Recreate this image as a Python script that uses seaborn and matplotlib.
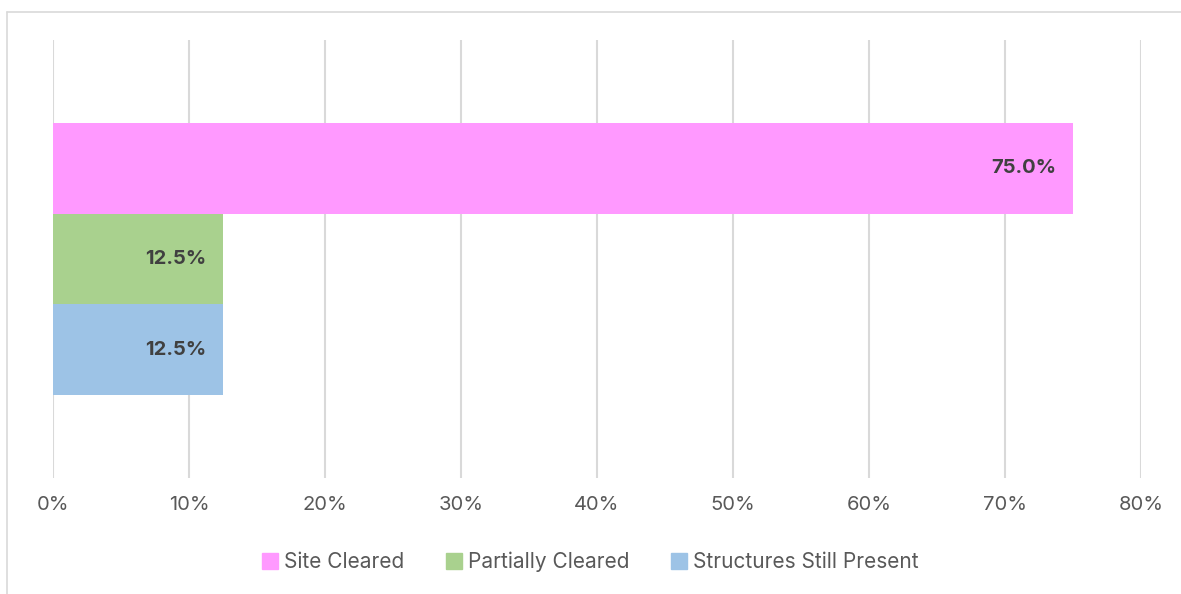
import pandas as pd
import matplotlib.pyplot as plt
import seaborn as sns
from matplotlib.lines import Line2D
from matplotlib.ticker import FuncFormatter

# data
statuses = ['Site Cleared', 'Partially Cleared', 'Structures Still Present']
shares = [75.0, 12.5, 12.5]
group = ['', '', '']
colors = ['#FF99FF', '#A9D18E', '#9DC3E6']
xticks = [0, 10, 20, 30, 40, 50, 60, 70, 80]

df = pd.DataFrame({'status': statuses, 'share': shares, 'group': group})

sns.set_theme(style='white')
plt.rcParams['font.family'] = ['Inter', 'DejaVu Sans']

fig = plt.figure(figsize=(11.81, 5.94), dpi=100)
ax = fig.add_axes([53 / 1181, 1 - 478 / 594, (1141 - 53) / 1181, (478 - 40) / 594])

sns.barplot(data=df, x='share', y='group', hue='status', hue_order=statuses,
            palette=colors, orient='h', width=0.623, saturation=1,
            edgecolor='none', legend=True, ax=ax)

ax.set_xlim(0, 80)
ax.set_ylim(0.5, -0.5)
ax.set_xticks(xticks)
ax.xaxis.set_major_formatter(FuncFormatter(lambda v, p: f'{v:.0f}%'))
ax.tick_params(axis='x', length=0, pad=13, labelsize=14.5, labelcolor='#595959')
ax.set_yticks([])
ax.set_xlabel('')
ax.set_ylabel('')
ax.grid(axis='x', color='#D9D9D9', linewidth=1.5)
ax.set_axisbelow(True)
for s in ax.spines.values():
    s.set_visible(False)

for cont in ax.containers:
    for bar in cont:
        w = bar.get_width()
        ax.text(w - 1.2, bar.get_y() + bar.get_height() / 2,
                f'{w:.1f}%', ha='right', va='center', fontsize=14.5,
                fontweight='bold', color='#404040')

ax.legend_.remove()
handles = [plt.Rectangle((0, 0), 1, 1, color=c) for c in colors]
fig.legend(handles, statuses, loc='center', bbox_to_anchor=(0.5, 1 - 562 / 594),
           ncol=3, frameon=False, fontsize=15, labelcolor='#595959',
           handlelength=0.75, handleheight=0.75, handletextpad=0.3, columnspacing=2.0)

# chart frame (top and left edges visible)
fig.add_artist(Line2D([7 / 1181, 7 / 1181], [0, 1 - 12 / 594], color='#D9D9D9', lw=1.2))
fig.add_artist(Line2D([7 / 1181, 1], [1 - 12 / 594, 1 - 12 / 594], color='#D9D9D9', lw=1.2))

fig.savefig('out.png', dpi=100)
